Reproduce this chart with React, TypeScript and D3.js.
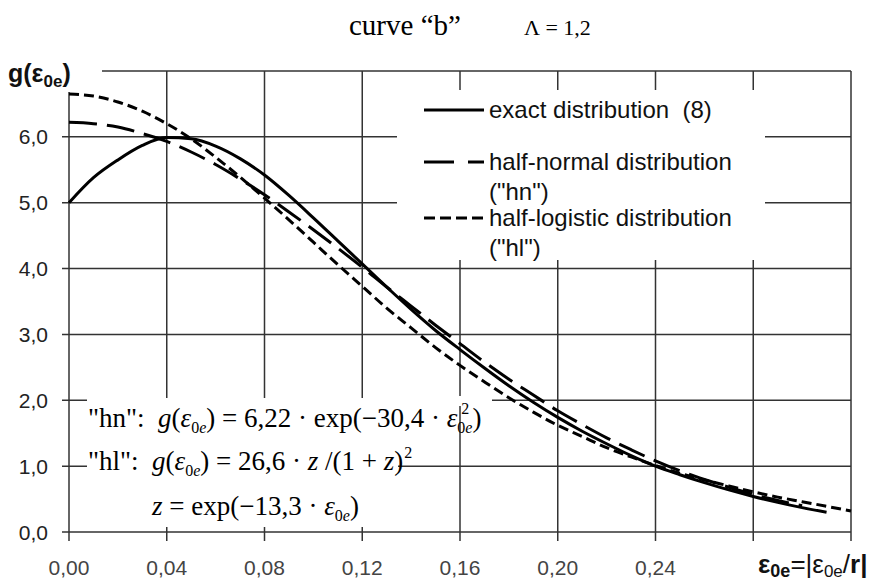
import React from 'react';
import * as d3 from 'd3';

// values
const epsExact = [0, 0.01, 0.02, 0.03, 0.04, 0.05, 0.06, 0.07, 0.08, 0.09, 0.1, 0.11, 0.12, 0.13, 0.14, 0.15, 0.16, 0.17, 0.18, 0.19, 0.2, 0.21, 0.22, 0.23, 0.24, 0.25, 0.26, 0.27, 0.28, 0.29, 0.3, 0.31];
const gExact = [5.0, 5.38, 5.65, 5.87, 5.99, 5.97, 5.86, 5.67, 5.42, 5.11, 4.77, 4.42, 4.07, 3.72, 3.38, 3.06, 2.77, 2.49, 2.22, 1.97, 1.74, 1.53, 1.34, 1.16, 1.0, 0.87, 0.75, 0.64, 0.54, 0.45, 0.37, 0.3];

const epsHn = [0, 0.01, 0.02, 0.03, 0.04, 0.05, 0.06, 0.07, 0.08, 0.09, 0.1, 0.11, 0.12, 0.13, 0.14, 0.15, 0.16, 0.17, 0.18, 0.19, 0.2, 0.21, 0.22, 0.23, 0.24, 0.25, 0.26, 0.27, 0.28, 0.29, 0.3];
const gHn = [6.22, 6.2, 6.15, 6.05, 5.93, 5.77, 5.58, 5.36, 5.12, 4.86, 4.59, 4.31, 4.02, 3.72, 3.43, 3.14, 2.86, 2.58, 2.32, 2.08, 1.84, 1.63, 1.43, 1.25, 1.08, 0.93, 0.8, 0.68, 0.57, 0.48, 0.4];

const epsHl = [0, 0.01, 0.02, 0.03, 0.04, 0.05, 0.06, 0.07, 0.08, 0.09, 0.1, 0.11, 0.12, 0.13, 0.14, 0.15, 0.16, 0.17, 0.18, 0.19, 0.2, 0.21, 0.22, 0.23, 0.24, 0.25, 0.26, 0.27, 0.28, 0.29, 0.3, 0.31, 0.32];
const gHl = [6.65, 6.62, 6.53, 6.39, 6.2, 5.97, 5.69, 5.39, 5.07, 4.74, 4.4, 4.06, 3.73, 3.4, 3.1, 2.8, 2.53, 2.28, 2.04, 1.82, 1.62, 1.45, 1.28, 1.14, 1.01, 0.89, 0.79, 0.7, 0.61, 0.53, 0.46, 0.39, 0.32];

const xTicks = [0, 0.04, 0.08, 0.12, 0.16, 0.2, 0.24, 0.28, 0.32];
const xLabelTicks = [0, 0.04, 0.08, 0.12, 0.16, 0.2, 0.24];
const yTicks = [0, 1, 2, 3, 4, 5, 6, 7];
const yLabelTicks = [0, 1, 2, 3, 4, 5, 6];

const W = 869;
const H = 588;
const sans = '"Liberation Sans", Arial, sans-serif';
const serif = '"Liberation Serif", "Times New Roman", serif';
const gridColor = '#333';
const sp = '\u00A0';

export default function App() {
  const x = d3.scaleLinear().domain([0, 0.32]).range([69, 851]);
  const y = d3.scaleLinear().domain([0, 7]).range([532, 71]);

  const line = (xs: number[], ys: number[]) =>
    d3.line<number>()
      .x((d) => x(d))
      .y((_, i) => y(ys[i]))
      .curve(d3.curveMonotoneX)(xs) || '';

  const fmtX = (v: number) => d3.format('.2f')(v).replace('.', ',');
  const fmtY = (v: number) => d3.format('.1f')(v).replace('.', ',');

  return (
    <svg width={W} height={H} style={{ position: 'absolute', left: 0, top: 0, background: '#fff' }}>
      <rect width={W} height={H} fill="#fff" />

      {/* grid */}
      {yTicks.map((t) => (
        <line key={'gy' + t} x1={62} x2={x(0.32)} y1={y(t)} y2={y(t)} stroke={gridColor} strokeWidth={1.5} />
      ))}
      {xTicks.map((t) => (
        <line key={'gx' + t} x1={x(t)} x2={x(t)} y1={y(7)} y2={y(0) + 9} stroke={gridColor} strokeWidth={1.5} />
      ))}

      {/* white boxes behind legend, formulas, axis label */}
      <rect x={397} y={90} width={368} height={170} fill="#fff" />
      <rect x={87} y={398} width={311} height={129} fill="#fff" />
      <rect x={398} y={396} width={94} height={10} fill="#fff" />
      <rect x={0} y={50} width={102} height={42} fill="#fff" />

      {/* tick labels */}
      {yLabelTicks.map((t) => (
        <text key={'ly' + t} x={48} y={y(t)} dy="0.36em" textAnchor="end" fontFamily={sans} fontSize={21} fill="#222">
          {fmtY(t)}
        </text>
      ))}
      {xLabelTicks.map((t) => (
        <text key={'lx' + t} x={x(t)} y={575} textAnchor="middle" fontFamily={sans} fontSize={21} fill="#444">
          {fmtX(t)}
        </text>
      ))}

      {/* curves */}
      <path d={line(epsHl, gHl)} fill="none" stroke="#000" strokeWidth={3} strokeDasharray="10,5" />
      <path d={line(epsHn, gHn)} fill="none" stroke="#000" strokeWidth={3} strokeDasharray="28,10" />
      <path d={line(epsExact, gExact)} fill="none" stroke="#000" strokeWidth={3} />

      {/* legend */}
      <line x1={424} x2={484} y1={110} y2={110} stroke="#000" strokeWidth={3} />
      <line x1={424} x2={484} y1={162} y2={162} stroke="#000" strokeWidth={3} strokeDasharray="30,14" />
      <line x1={424} x2={484} y1={218} y2={218} stroke="#000" strokeWidth={3} strokeDasharray="11,5" />
      <g fontFamily={sans} fontSize={24} fill="#111">
        <text x={489} y={118}>{'exact distribution' + sp + sp + '(8)'}</text>
        <text x={489} y={170}>half-normal distribution</text>
        <text x={489} y={200}>("hn")</text>
        <text x={489} y={226}>half-logistic distribution</text>
        <text x={489} y={256}>("hl")</text>
      </g>

      {/* axis titles */}
      <text x={8} y={82} fontFamily={sans} fontSize={25} fontWeight="bold" fill="#111">
        g(ε<tspan fontSize={17} dy={5}>0e</tspan><tspan dy={-5}>)</tspan>
      </text>
      <text x={758} y={573} fontFamily={sans} fontSize={26} fill="#111">
        <tspan fontWeight="bold">ε</tspan>
        <tspan fontWeight="bold" fontSize={18} dy={4}>0e</tspan>
        <tspan dy={-4}>=|ε</tspan>
        <tspan fontSize={17} dy={4}>0e</tspan>
        <tspan dy={-4}>/</tspan>
        <tspan fontWeight="bold">r|</tspan>
      </text>

      {/* title */}
      <text x={349} y={35} fontFamily={serif} fontSize={29} fill="#000">curve “b”</text>
      <text x={524} y={35} fontFamily={serif} fontSize={22} fill="#000">{'Λ' + sp + '=' + sp + '1,2'}</text>

      {/* formulas */}
      <g fontFamily={serif} fontSize={27} fill="#000">
        <text x={88} y={427}>
          {'"hn":' + sp + sp}
          <tspan fontStyle="italic">g</tspan>(
          <tspan fontStyle="italic">ε</tspan>
          <tspan fontSize={16} dy={6}>0</tspan>
          <tspan fontSize={16} fontStyle="italic">e</tspan>
          <tspan dy={-6}>{')' + sp + '=' + sp + '6,22' + sp + '·' + sp + 'exp(−30,4' + sp + '·' + sp}</tspan>
          <tspan fontStyle="italic">ε</tspan>
          <tspan fontSize={16} dx={4} dy={-13}>2</tspan>
          <tspan fontSize={16} dx={-12} dy={19}>0</tspan>
          <tspan fontSize={16} fontStyle="italic">e</tspan>
          <tspan dy={-6}>)</tspan>
        </text>
        <text x={88} y={470}>
          {'"hl":' + sp + sp}
          <tspan fontStyle="italic">g</tspan>(
          <tspan fontStyle="italic">ε</tspan>
          <tspan fontSize={16} dy={6}>0</tspan>
          <tspan fontSize={16} fontStyle="italic">e</tspan>
          <tspan dy={-6}>{')' + sp + '=' + sp + '26,6' + sp + '·' + sp}</tspan>
          <tspan fontStyle="italic">z</tspan>
          <tspan>{sp + '/(1' + sp + '+' + sp}</tspan>
          <tspan fontStyle="italic">z</tspan>
          <tspan>)</tspan>
          <tspan fontSize={16} dx={1} dy={-12}>2</tspan>
        </text>
        <text x={152} y={515}>
          <tspan fontStyle="italic">z</tspan>
          <tspan>{sp + '=' + sp + 'exp(−13,3' + sp + '·' + sp}</tspan>
          <tspan fontStyle="italic">ε</tspan>
          <tspan fontSize={16} dy={6}>0</tspan>
          <tspan fontSize={16} fontStyle="italic">e</tspan>
          <tspan dy={-6}>)</tspan>
        </text>
      </g>
    </svg>
  );
}
